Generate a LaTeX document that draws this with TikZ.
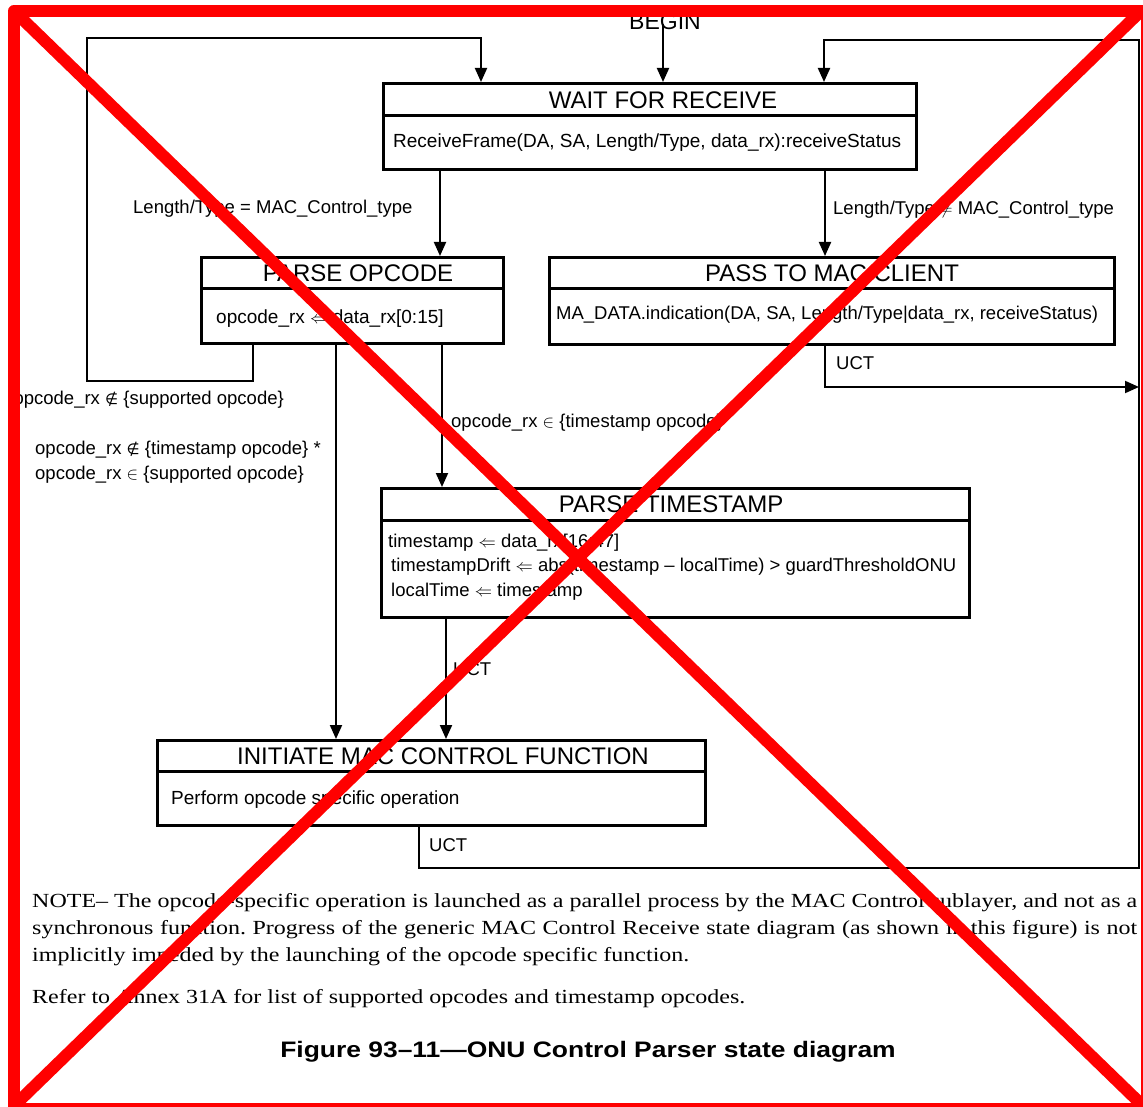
\documentclass[tikz,border=0pt]{standalone}
\usepackage{fontspec}
\setmainfont{Liberation Sans}
\newfontfamily\notefont[FakeStretch=1.2]{Liberation Serif}
\newfontfamily\titlefont[FakeStretch=1.18]{Liberation Sans}
\newfontfamily\symfont{DejaVu Sans}
\newcommand{\notelem}{{\symfont\fontsize{15}{18}\selectfont ∉}}
\usetikzlibrary{arrows.meta,calc}
\frenchspacing

\begin{document}
\begin{tikzpicture}[x=1pt,y=-1pt,
  statebox/.style={draw, line width=3pt, inner sep=0pt, anchor=north west},
  hdrline/.style={line width=3pt},
  conn/.style={line width=2pt},
  arr/.style={conn, -{Triangle[length=14pt,width=12pt]}},
  headtxt/.style={font=\fontsize{24}{28}\selectfont, inner sep=0pt, yshift=-1.5pt},
  bodytxt/.style={font=\fontsize{19}{22}\selectfont, inner sep=0pt, anchor=mid west, yshift=-4pt},
  smallbody/.style={bodytxt, font=\fontsize{18.5}{22}\selectfont},
  lbl/.style={font=\fontsize{18.5}{22}\selectfont, inner sep=0pt, anchor=mid west, yshift=-4pt},
  notetxt/.style={font=\notefont\fontsize{20}{27}\selectfont, inner sep=0pt, anchor=base west},
  xmark/.style={draw=red, line width=12pt, line join=round}
]
\fill[white] (0,0) rectangle (1143,1107);
\useasboundingbox (0,0) rectangle (1143,1107);

% ---------- states ----------
\node[statebox, minimum width=533pt, minimum height=86pt] (wait) at (382,82) {};
\draw[hdrline] ([yshift=-34pt]wait.north west) -- ([yshift=-34pt]wait.north east);
\node[headtxt] (waith) at (663,99) {WAIT FOR RECEIVE};
\node[bodytxt] (waitb) at (393,141) {ReceiveFrame(DA, SA, Length/Type, data\_rx):receiveStatus};

\node[statebox, minimum width=302pt, minimum height=86pt] (popc) at (200,256) {};
\draw[hdrline] ([yshift=-33pt]popc.north west) -- ([yshift=-33pt]popc.north east);
\node[headtxt] (popch) at (358,272) {PARSE OPCODE};
\node[bodytxt] (popcb) at (216,317) {opcode\_rx $\Leftarrow$ data\_rx[0:15]};

\node[statebox, minimum width=565pt, minimum height=87pt] (pass) at (548,256) {};
\draw[hdrline] ([yshift=-33pt]pass.north west) -- ([yshift=-33pt]pass.north east);
\node[headtxt] (passh) at (832,272) {PASS TO MAC CLIENT};
\node[smallbody] (passb) at (556,313) {MA\_DATA.indication(DA, SA, Length/Type|data\_rx, receiveStatus)};

\node[statebox, minimum width=588pt, minimum height=129pt] (pts) at (380,487) {};
\draw[hdrline] ([yshift=-33pt]pts.north west) -- ([yshift=-33pt]pts.north east);
\node[headtxt] (ptsh) at (671,503) {PARSE TIMESTAMP};
\node[smallbody] (ptsb1) at (388,541) {timestamp $\Leftarrow$ data\_rx[16:47]};
\node[smallbody] (ptsb2) at (391,565) {timestampDrift $\Leftarrow$ abs(timestamp – localTime) > guardThresholdONU};
\node[smallbody] (ptsb3) at (391,590) {localTime $\Leftarrow$ timestamp};

\node[statebox, minimum width=548pt, minimum height=85pt] (init) at (156,739) {};
\draw[hdrline] ([yshift=-32pt]init.north west) -- ([yshift=-32pt]init.north east);
\node[headtxt] (inith) at (443,755) {INITIATE MAC CONTROL FUNCTION};
\node[bodytxt] (initb) at (171,798) {Perform opcode specific operation};

% ---------- entry ----------
\node[font=\fontsize{23}{26}\selectfont, inner sep=0pt] (begin) at (665,22) {BEGIN};

% ---------- connector columns and corners ----------
\coordinate (xB) at (663,0);
\coordinate (xL) at (253,0);
\coordinate (xW) at (481,0);
\coordinate (xA) at (440,0);
\coordinate (xP) at (825,0);
\coordinate (xR) at (824,0);
\coordinate (xO) at (336,0);
\coordinate (xT) at (442,0);
\coordinate (xU) at (446,0);
\coordinate (xV) at (419,0);
\coordinate (lb) at (87,381);
\coordinate (lt) at (87,38);
\coordinate (ru) at (1139,387);
\coordinate (rb) at (1139,868);
\coordinate (rt) at (1139,40);

% ---------- transitions ----------
\draw[arr] ([yshift=6pt]begin.south -| xB) -- (wait.north -| xB);
\draw[arr] (popc.south -| xL) |- (lb) -- (lt) -| (wait.north -| xW);
\draw[arr] (wait.south -| xA) -- (popc.north -| xA);
\draw[arr] (wait.south -| xP) -- (pass.north -| xP);
\draw[arr] (pass.south -| xP) |- (ru);
\draw[arr] (popc.south -| xO) -- (init.north -| xO);
\draw[arr] (popc.south -| xT) -- (pts.north -| xT);
\draw[arr] (pts.south -| xU) -- (init.north -| xU);
\draw[arr] (init.south -| xV) |- (rb) -- (rt) -| (wait.north -| xR);

% ---------- transition conditions ----------
\node[lbl] (c1) at (133,207) {Length/Type = MAC\_Control\_type};
\node[lbl] (c2) at (833,208) {Length/Type $\neq$ MAC\_Control\_type};
\node[lbl] (c3) at (836,363) {UCT};
\node[lbl, anchor=mid east] (c4) at (284,398) {opcode\_rx \notelem{} \{supported opcode\}};
\node[lbl] (c5) at (451,421) {opcode\_rx $\in$ \{timestamp opcode\}};
\node[lbl] (c6) at (35,448) {opcode\_rx \notelem{} \{timestamp opcode\} *};
\node[lbl] (c7) at (35,473) {opcode\_rx $\in$ \{supported opcode\}};
\node[lbl] (c8) at (453,669) {UCT};
\node[lbl] (c9) at (429,845) {UCT};

% ---------- note and caption ----------
\node[notetxt] (n1) at (32,907) {\makebox[1105pt][s]{NOTE– The opcode-specific operation is launched as a parallel process by the MAC Control sublayer, and not as a}};
\node[notetxt] (n2) at (32,934) {\makebox[1105pt][s]{synchronous function. Progress of the generic MAC Control Receive state diagram (as shown in this figure) is not}};
\node[notetxt] (n3) at (32,961) {implicitly impeded by the launching of the opcode specific function.};
\node[notetxt] (n4) at (32,1003) {Refer to Annex 31A for list of supported opcodes and timestamp opcodes.};
\node[font=\titlefont\bfseries\fontsize{22.4}{26}\selectfont, inner sep=0pt, anchor=base] (cap) at (588,1057) {Figure 93–11—ONU Control Parser state diagram};

% ---------- red cross-out ----------
\draw[xmark] (14,11) rectangle (1147,1109);
\draw[xmark] (14,11) -- (1141,1104);
\draw[xmark] (1141,11) -- (16,1104);
\end{tikzpicture}
\end{document}
